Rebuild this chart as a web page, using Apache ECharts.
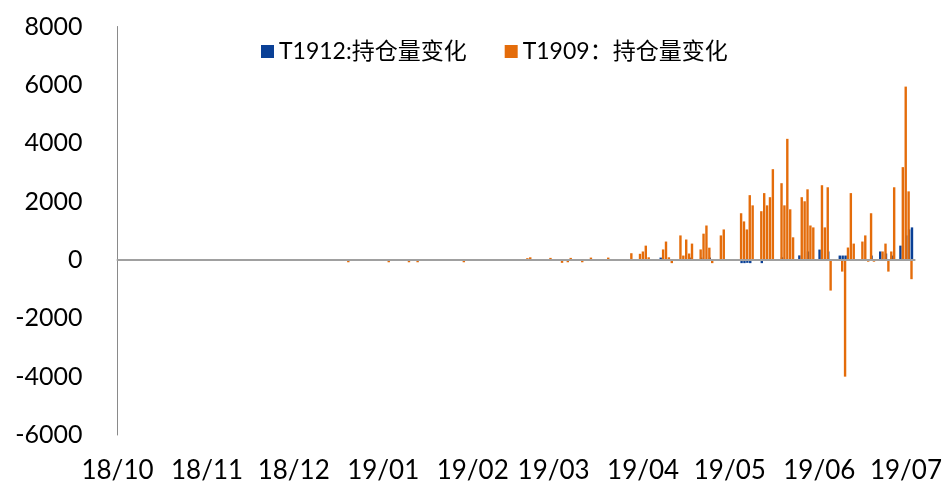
<!DOCTYPE html>
<html>
<head>
<meta charset="utf-8">
<title>T1912 / T1909 持仓量变化</title>
<script src="https://cdn.jsdelivr.net/npm/echarts@6/dist/echarts.min.js"></script>
<style>
  html, body { margin: 0; padding: 0; background: #fff; }
  #chart { width: 945px; height: 489px; }
</style>
</head>
<body>
<div id="chart"></div>
<script>
// trading days with a visible change in open interest (others are ~0)
const tradeDates = [
  '2018-12-18', '2018-12-20', '2018-12-21', '2018-12-28',
  '2019-01-03', '2019-01-04', '2019-01-08', '2019-01-09', '2019-01-11', '2019-01-14', '2019-01-23', '2019-01-25', '2019-01-28', '2019-01-30',
  '2019-02-11', '2019-02-12', '2019-02-15', '2019-02-19', '2019-02-20', '2019-02-21', '2019-02-22', '2019-02-26', '2019-02-27',
  '2019-03-01', '2019-03-05', '2019-03-07', '2019-03-08', '2019-03-11', '2019-03-12', '2019-03-15', '2019-03-18', '2019-03-19', '2019-03-21', '2019-03-22', '2019-03-25', '2019-03-29',
  '2019-04-01', '2019-04-02', '2019-04-03', '2019-04-04', '2019-04-09', '2019-04-10', '2019-04-11', '2019-04-12', '2019-04-15', '2019-04-16',
  '2019-04-17', '2019-04-18', '2019-04-19', '2019-04-22', '2019-04-23', '2019-04-24', '2019-04-25', '2019-04-26', '2019-04-29', '2019-04-30',
  '2019-05-06', '2019-05-07', '2019-05-08', '2019-05-09', '2019-05-10', '2019-05-13', '2019-05-14', '2019-05-15', '2019-05-16', '2019-05-17',
  '2019-05-20', '2019-05-21', '2019-05-22', '2019-05-23', '2019-05-24', '2019-05-27', '2019-05-28', '2019-05-29', '2019-05-30', '2019-05-31',
  '2019-06-03', '2019-06-04', '2019-06-05', '2019-06-06', '2019-06-10', '2019-06-11', '2019-06-12', '2019-06-13', '2019-06-14', '2019-06-17',
  '2019-06-18', '2019-06-19', '2019-06-20', '2019-06-21', '2019-06-24', '2019-06-25', '2019-06-26', '2019-06-27', '2019-06-28',
  '2019-07-01', '2019-07-02', '2019-07-03', '2019-07-04', '2019-07-05'
]

const t1912Change = [
  0, 0, 0, 0,
  0, 0, 0, 0, 0, 0, 0, 0, 0, 0,
  0, 0, 0, 0, 0, 0, 0, 0, 0,
  0, 0, 0, 0, 0, 0, 0, 10, 0, 0, 0, 0, 0,
  0, 0, 0, 0, 80, 0, 0, 0, 0, 0,
  0, 0, 80, 0, 80, 0, 0, 80, 0, 0,
  0, -110, -110, -100, -110, 0, -110, 0, 0, 0,
  0, 90, 0, 0, 0, 155, 0, 0, 290, 0,
  355, 0, 0, 290, 150, 150, 150, 0, 0, 0,
  0, 0, 0, 150, 290, 0, 220, 0, 150,
  490, 0, 840, 1045, 1115
]

const t1909Change = [
  30, 20, -80, 25,
  20, -80, 25, -20, -80, -80, 20, 25, -20, -80,
  30, 20, 25, 20, 30, 60, 90, 25, 20,
  70, -100, -80, 70, 25, -80, 80, 25, 20, 80, 20, 25, 230,
  210, 290, 490, 90, 360, 630, 90, -110, 840, 150,
  700, 220, 560, 360, 900, 1180, 420, -110, 840, 1045,
  1600, 1320, 1045, 2220, 1870, 1670, 2290, 1870, 2150, 3110,
  2630, 1870, 4150, 1735, 775, 2150, 2010, 2420, 1180, 1115,
  2560, 1115, 2490, -1050, -400, -4000, 425, 2290, 560, 630,
  840, -60, 1600, -60, 290, 560, -400, 290, 2490,
  3180, 5940, 2350, -660, -30
]

const seriesNames = ['T1912:持仓量变化', 'T1909：持仓量变化']
const colors = ['#0a4096', '#e46c0a']
const FONT = "Lato, 'Noto Sans CJK SC', sans-serif"

const DAY = 86400000
const dayRange = (start, end) => {
  const out = []
  for (let t = Date.parse(start + 'T00:00:00Z'); t <= Date.parse(end + 'T00:00:00Z'); t += DAY) {
    out.push(new Date(t).toISOString().slice(0, 10))
  }
  return out
}

// calendar-day axis for the bars, and a second one carrying the month labels
const barDays = dayRange('2018-10-03', '2019-07-05')
const labelDays = dayRange('2018-10-01', '2019-07-04')

const onDays = (vals) => {
  const m = {}
  tradeDates.forEach((d, i) => { m[d] = vals[i] })
  return barDays.map(d => (d in m ? m[d] : null))
}

const chart = echarts.init(document.getElementById('chart'))

chart.setOption({
  animation: false,
  backgroundColor: '#fff',
  textStyle: { fontFamily: FONT },
  legend: {
    data: seriesNames,
    left: 256,
    top: 35,
    icon: 'rect',
    itemWidth: 13,
    itemHeight: 13,
    itemGap: 38,
    textStyle: { fontSize: 23, color: '#000', fontFamily: FONT }
  },
  grid: { left: 117.5, right: 29, top: 26.5, bottom: 54 },
  xAxis: [
    {
      type: 'category',
      data: barDays,
      position: 'bottom',
      boundaryGap: true,
      z: 5,
      axisLine: { onZero: true, lineStyle: { color: '#a0a0a0', width: 2 } },
      axisTick: { show: false },
      axisLabel: { show: false }
    },
    {
      type: 'category',
      data: labelDays,
      position: 'bottom',
      boundaryGap: false,
      axisLine: { show: false, onZero: false },
      axisTick: { show: false },
      axisLabel: {
        interval: (i, v) => v.slice(8) === '01',
        formatter: v => v.slice(2, 4) + '/' + v.slice(5, 7),
        fontSize: 26,
        color: '#000',
        margin: 23,
        fontFamily: FONT
      }
    }
  ],
  yAxis: {
    type: 'value',
    min: -6000,
    max: 8000,
    interval: 2000,
    axisLine: { show: true, lineStyle: { color: '#8a8a8a', width: 1 } },
    axisTick: { show: false },
    splitLine: { show: false },
    axisLabel: {
      fontSize: 25,
      color: '#000',
      margin: 35,
      fontFamily: FONT,
      formatter: v => String(v)
    }
  },
  series: [
    {
      name: seriesNames[0],
      type: 'bar',
      xAxisIndex: 0,
      data: onDays(t1912Change),
      barWidth: 2.4,
      barGap: '0%',
      itemStyle: { color: colors[0] }
    },
    {
      name: seriesNames[1],
      type: 'bar',
      xAxisIndex: 0,
      data: onDays(t1909Change),
      barWidth: 2.4,
      barGap: '0%',
      itemStyle: { color: colors[1] }
    }
  ]
})
</script>
</body>
</html>
